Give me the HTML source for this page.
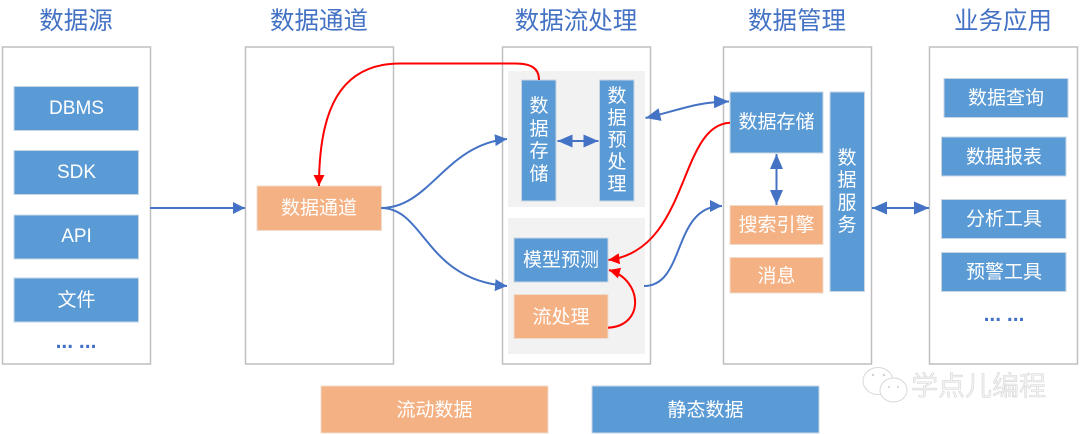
<!DOCTYPE html>
<html lang="zh"><head><meta charset="utf-8"><title>数据架构</title>
<style>
html,body{margin:0;padding:0;background:#fff;width:1080px;height:434px;overflow:hidden}
svg{display:block}
text{font-family:"Liberation Sans","Noto Sans CJK SC",sans-serif;text-anchor:middle;dominant-baseline:central;transform:translateY(1.5px)}
.t{font-size:24.5px;fill:#4472c4}
.w{font-size:19px;fill:#fff}
.p{fill:#fff;stroke:#bfbfbf;stroke-width:1.5}
.g{fill:#f2f2f2}
.b{fill:#5b9bd5;stroke:#c9d6e3;stroke-width:1}
.o{fill:#f4b183;stroke:#f0dccd;stroke-width:1}
.l{fill:none;stroke:#4472c4;stroke-width:2}
.r{fill:none;stroke:#ff0000;stroke-width:2}
.d{font-size:21px;fill:#4472c4;font-weight:bold}
</style></head><body>
<svg width="1080" height="434" viewBox="0 0 1080 434" xmlns="http://www.w3.org/2000/svg">
<defs>
<marker id="ab" markerUnits="userSpaceOnUse" markerWidth="13" markerHeight="12" refX="12" refY="6" orient="auto-start-reverse"><path d="M0,0 L12,6 L0,12 Z" fill="#4472c4"/></marker>
<marker id="abd" markerUnits="userSpaceOnUse" markerWidth="16" markerHeight="13" refX="15" refY="6.5" orient="auto-start-reverse"><path d="M0,0 L15,6.5 L0,13 Z" fill="#4472c4"/></marker>
<marker id="ar" markerUnits="userSpaceOnUse" markerWidth="12" markerHeight="12" refX="11" refY="5.5" orient="auto"><path d="M0,0 L11,5.5 L0,11 Z" fill="#ff0000"/></marker>
</defs>

<text class="t" x="76" y="20">数据源</text>
<text class="t" x="319" y="20">数据通道</text>
<text class="t" x="576" y="20">数据流处理</text>
<text class="t" x="797" y="20">数据管理</text>
<text class="t" x="1003" y="20">业务应用</text>

<rect class="p" x="2.5" y="47" width="148" height="317"/>
<rect class="p" x="245.5" y="47" width="148" height="317"/>
<rect class="p" x="502.5" y="47" width="148" height="317"/>
<rect class="p" x="723.5" y="47" width="148" height="317"/>
<rect class="p" x="929.5" y="47" width="148" height="317"/>

<rect class="g" x="508" y="71" width="137" height="136"/>
<rect class="g" x="508" y="218" width="137" height="136"/>

<rect class="b" x="14" y="86.5" width="124.500" height="44"/>
<rect class="b" x="14" y="150.500" width="124.500" height="44"/>
<rect class="b" x="14" y="215" width="124.500" height="44"/>
<rect class="b" x="14" y="278" width="124.500" height="44"/>
<text class="w" x="76.500" y="107">DBMS</text>
<text class="w" x="76.500" y="171">SDK</text>
<text class="w" x="76.500" y="235">API</text>
<text class="w" x="76.500" y="299">文件</text>
<text class="d" x="76" y="340">... ...</text>

<rect class="o" x="257" y="186" width="124.500" height="44.500"/>
<text class="w" x="319" y="207">数据通道</text>

<rect class="b" x="521.500" y="80" width="34.500" height="121"/>
<text class="w" x="539" y="105">数</text><text class="w" x="539" y="128">据</text><text class="w" x="539" y="150">存</text><text class="w" x="539" y="173">储</text>
<rect class="b" x="599.500" y="80" width="34.500" height="121"/>
<text class="w" x="617" y="95">数</text><text class="w" x="617" y="117">据</text><text class="w" x="617" y="139">预</text><text class="w" x="617" y="161">处</text><text class="w" x="617" y="183">理</text>
<rect class="b" x="514" y="238" width="94" height="44"/>
<text class="w" x="561" y="259">模型预测</text>
<rect class="o" x="514" y="294.500" width="94" height="44"/>
<text class="w" x="561" y="316">流处理</text>

<rect class="b" x="730" y="92" width="93" height="61"/>
<text class="w" x="776.500" y="121">数据存储</text>
<rect class="o" x="730" y="205.500" width="93" height="39"/>
<text class="w" x="776.500" y="224">搜索引擎</text>
<rect class="o" x="730" y="257.500" width="93" height="35.500"/>
<text class="w" x="776.500" y="275">消息</text>
<rect class="b" x="830" y="92" width="34.500" height="199.500"/>
<text class="w" x="847" y="157">数</text><text class="w" x="847" y="179">据</text><text class="w" x="847" y="202">服</text><text class="w" x="847" y="224">务</text>

<rect class="b" x="944" y="78.500" width="124" height="39"/>
<text class="w" x="1006" y="97">数据查询</text>
<rect class="b" x="941.500" y="137" width="124.500" height="39"/>
<text class="w" x="1004" y="156">数据报表</text>
<rect class="b" x="941.500" y="199.500" width="124.500" height="39"/>
<text class="w" x="1004" y="218">分析工具</text>
<rect class="b" x="941.500" y="252.500" width="124.500" height="39"/>
<text class="w" x="1004" y="271">预警工具</text>
<text class="d" x="1004" y="313">... ...</text>

<rect class="o" x="321" y="386" width="227" height="47"/>
<text class="w" x="434.500" y="409">流动数据</text>
<rect class="b" x="592" y="386" width="227" height="47"/>
<text class="w" x="705.500" y="409">静态数据</text>

<path class="l" d="M150,208 L245,208" marker-end="url(#ab)"/>
<path class="l" d="M381,208 C430,208 445,145 507,139" marker-end="url(#ab)"/>
<path class="l" d="M381,208 C425,208 425,280 507,286" marker-end="url(#ab)"/>
<path class="l" d="M557.500,141 L598.500,141" marker-start="url(#abd)" marker-end="url(#abd)"/>
<path class="l" d="M645.500,118 C680,110 695,102 729,101.500" marker-start="url(#abd)" marker-end="url(#abd)"/>
<path class="l" d="M644,286 C686,286 672,206 722,206" marker-end="url(#ab)"/>
<path class="l" d="M776.500,154 L776.500,205" marker-start="url(#abd)" marker-end="url(#abd)"/>
<path class="l" d="M872,208 L929,208" marker-start="url(#abd)" marker-end="url(#abd)"/>

<path class="r" d="M539,80 C539,68 531,63.500 515,63.500 L400,63.500 C340,63.500 319,110 319,186" marker-end="url(#ar)"/>
<path class="r" d="M730,122.700 C678,125 690,250 608.500,260" marker-end="url(#ar)"/>
<path class="r" d="M608,327.700 C645,326 643,280 609,270" marker-end="url(#ar)"/>

<g fill="#fff" stroke="#d8d8d8" stroke-width="1">
<ellipse cx="878" cy="381" rx="15" ry="13.500"/>
<ellipse cx="893.500" cy="390" rx="13.500" ry="12"/>
</g>
<g fill="#cfcfcf"><circle cx="873" cy="375" r="1.200"/><circle cx="884" cy="375" r="1.200"/><circle cx="889" cy="387" r="1"/><circle cx="898" cy="387" r="1"/></g>
<text x="978.500" y="385" style="font-size:27px;fill:#f2f2f2;stroke:#bdbdbd;stroke-width:.3">学点儿编程</text>
</svg>
</body></html>
